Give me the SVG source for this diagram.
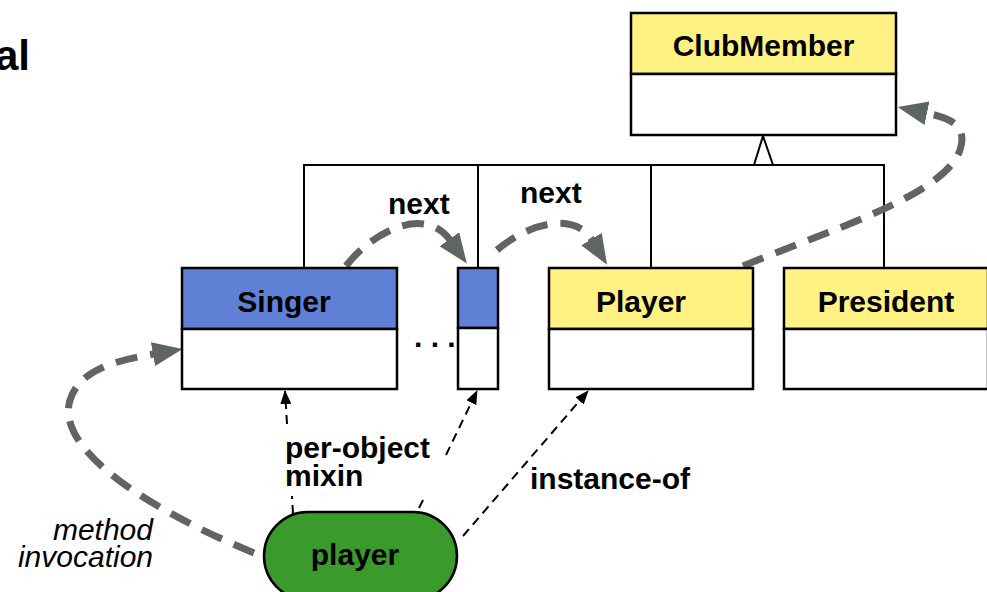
<svg xmlns="http://www.w3.org/2000/svg" width="987" height="592" viewBox="0 0 987 592">
  <style>
    .lbl { font-family: "Liberation Sans", Arial, sans-serif; font-weight: bold; font-size: 30px; fill: #000; }
    .ital { font-family: "Liberation Sans", Arial, sans-serif; font-style: italic; font-size: 30px; fill: #000; }
    .box { stroke: #000; stroke-width: 2.5; }
    .head-yellow { fill: #fff283; }
    .head-blue { fill: #6080d6; }
    .body { fill: #fff; }
    .tree { fill: none; stroke: #000; stroke-width: 2; }
    .flow { fill: none; stroke: #5f6560; stroke-width: 7; stroke-dasharray: 22 13; }
    .rel { fill: none; stroke: #000; stroke-width: 2; stroke-dasharray: 9 6; }
  </style>
  <defs>
    <marker id="bigArrow" markerUnits="userSpaceOnUse" markerWidth="32" markerHeight="26" refX="1" refY="12" orient="auto">
      <path d="M0,0 L30,12 L0,24 z" fill="#5f6560"/>
    </marker>
    <marker id="smallArrow" markerUnits="userSpaceOnUse" markerWidth="14" markerHeight="12" refX="13" refY="5.5" orient="auto">
      <path d="M0,0 L14,5.5 L0,11 z" fill="#000"/>
    </marker>
  </defs>

  <rect width="987" height="592" fill="#fff"/>

  <!-- heading fragment -->
  <text x="30" y="70" text-anchor="end" font-family="Liberation Sans, Arial, sans-serif" font-weight="bold" font-size="42">al</text>

  <!-- connectors -->
  <g id="connectors">
    <!-- inheritance tree -->
    <path class="tree" d="M304 267 V165 H884 V267 M478 165 V267 M651 165 V267"/>
    <path d="M763 136 L773 165 L754 165 z" fill="#fff" stroke="#000" stroke-width="2"/>

    <!-- method dispatch chain -->
    <path class="flow" d="M254 553 C150 510, 55 450, 70 400 C80 368, 120 360, 154 354" marker-end="url(#bigArrow)"/>
    <path class="flow" d="M346 266 C372 232, 425 205, 450 240" marker-end="url(#bigArrow)"/>
    <path class="flow" d="M497 250 C530 222, 575 212, 592 240" marker-end="url(#bigArrow)"/>
    <path class="flow" d="M743 266 C830 230, 945 195, 960 150 C968 125, 950 118, 926 113" marker-end="url(#bigArrow)"/>

    <!-- per-object mixins -->
    <path class="rel" d="M293 514 L292 496"/>
    <path class="rel" d="M287 424 L285 391" marker-end="url(#smallArrow)"/>
    <path class="rel" d="M419 508 L425 496"/>
    <path class="rel" d="M446 455 L477 391" marker-end="url(#smallArrow)"/>
    <!-- instance-of -->
    <path class="rel" d="M463 536 L588 391" marker-end="url(#smallArrow)"/>
  </g>

  <!-- classes -->
  <g id="ClubMember">
    <rect class="box head-yellow" x="631" y="13" width="265" height="61"/>
    <rect class="box body" x="631" y="74" width="265" height="61"/>
    <text class="lbl" x="763.5" y="56" text-anchor="middle">ClubMember</text>
  </g>

  <g id="Singer">
    <rect class="box head-blue" x="182" y="268" width="215" height="61"/>
    <rect class="box body" x="182" y="329" width="215" height="60"/>
    <text class="lbl" x="284" y="312" text-anchor="middle">Singer</text>
  </g>

  <g id="Mixin">
    <rect class="box head-blue" x="458" y="268" width="40" height="60"/>
    <rect class="box body" x="458" y="328" width="40" height="61"/>
  </g>

  <text class="lbl" x="414" y="347">. . .</text>

  <g id="Player">
    <rect class="box head-yellow" x="549" y="268" width="204" height="61"/>
    <rect class="box body" x="549" y="329" width="204" height="60"/>
    <text class="lbl" x="641" y="312" text-anchor="middle">Player</text>
  </g>

  <g id="President">
    <rect class="box head-yellow" x="784" y="268" width="204" height="61"/>
    <rect class="box body" x="784" y="329" width="204" height="60"/>
    <text class="lbl" x="886" y="312" text-anchor="middle">President</text>
  </g>

  <!-- object -->
  <g id="player">
    <rect x="264" y="512" width="193" height="88" rx="44" ry="44" fill="#3a9b2c" stroke="#000" stroke-width="2.5"/>
    <text class="lbl" x="355" y="565" text-anchor="middle">player</text>
  </g>

  <!-- connector labels -->
  <text class="lbl" x="388" y="214">next</text>
  <text class="lbl" x="520" y="203">next</text>
  <text class="lbl" x="285" y="458">per-object</text>
  <text class="lbl" x="285" y="486">mixin</text>
  <text class="lbl" x="530" y="489">instance-of</text>
  <text class="ital" x="153" y="540" text-anchor="end">method</text>
  <text class="ital" x="153" y="567" text-anchor="end">invocation</text>
</svg>
